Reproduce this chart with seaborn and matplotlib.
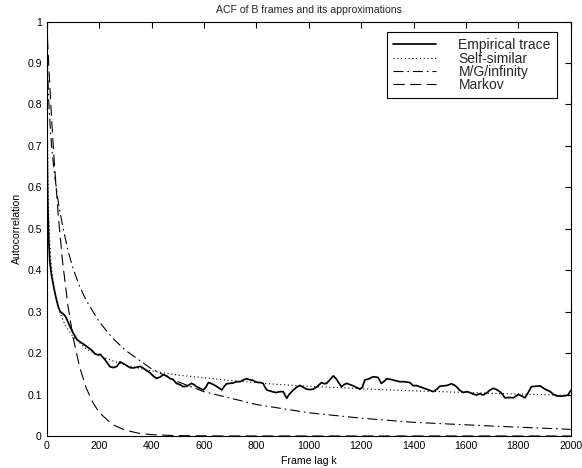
import numpy as np
import pandas as pd
import matplotlib
matplotlib.use("Agg")
import matplotlib.pyplot as plt
from matplotlib.ticker import FuncFormatter, MultipleLocator
import seaborn as sns

# ---- data ----
emp_lag = [0, 1, 2, 4, 8, 12, 18, 25, 35, 45, 52, 62, 70, 78, 89, 100, 114, 125, 140, 155,
           170, 185, 195, 205, 220, 242, 255, 268, 280, 292, 305, 318, 330, 345, 358, 370, 381,
           395, 410, 419, 432, 445, 458, 470, 483, 495, 508, 521, 533, 540, 553, 562, 572, 585,
           598, 608, 617, 630, 642, 655, 668, 678, 687, 700, 712, 725, 738, 750, 762, 775, 788,
           800, 815, 826, 833, 840, 855, 866, 877, 890, 903, 910, 916, 925, 941, 955, 966, 980,
           992, 1005, 1017, 1030, 1049, 1060, 1068, 1080, 1094, 1105, 1115, 1125, 1135, 1145,
           1158, 1170, 1183, 1196, 1205, 1214, 1230, 1246, 1258, 1265, 1277, 1288, 1297, 1310,
           1322, 1335, 1348, 1365, 1386, 1399, 1410, 1424, 1437, 1450, 1462, 1475, 1490, 1500,
           1513, 1528, 1545, 1555, 1564, 1577, 1590, 1603, 1615, 1628, 1641, 1653, 1666, 1680,
           1690, 1704, 1717, 1730, 1740, 1749, 1765, 1781, 1790, 1800, 1812, 1825, 1837, 1850,
           1865, 1883, 1895, 1908, 1920, 1935, 1946, 1960, 1978, 1990, 1997, 2000]
emp_val = [1.0, 0.80, 0.66, 0.56, 0.47, 0.42, 0.39, 0.365, 0.335, 0.31, 0.30, 0.295, 0.29,
           0.28, 0.264, 0.25, 0.234, 0.228, 0.222, 0.215, 0.208, 0.198, 0.196, 0.197, 0.186,
           0.167, 0.165, 0.168, 0.179, 0.175, 0.17, 0.165, 0.164, 0.166, 0.168, 0.163, 0.158,
           0.152, 0.143, 0.139, 0.142, 0.148, 0.145, 0.139, 0.136, 0.127, 0.124, 0.119, 0.12,
           0.122, 0.127, 0.124, 0.119, 0.115, 0.111, 0.118, 0.129, 0.126, 0.122, 0.117, 0.111,
           0.12, 0.126, 0.127, 0.128, 0.131, 0.131, 0.135, 0.138, 0.136, 0.134, 0.13, 0.129,
           0.127, 0.118, 0.111, 0.108, 0.106, 0.105, 0.107, 0.107, 0.098, 0.091, 0.1, 0.111,
           0.118, 0.122, 0.117, 0.113, 0.112, 0.113, 0.118, 0.129, 0.126, 0.127, 0.135, 0.145,
           0.138, 0.128, 0.119, 0.124, 0.127, 0.124, 0.121, 0.117, 0.113, 0.118, 0.135, 0.138,
           0.143, 0.142, 0.141, 0.127, 0.132, 0.138, 0.137, 0.135, 0.133, 0.131, 0.131, 0.129,
           0.121, 0.122, 0.119, 0.116, 0.113, 0.11, 0.107, 0.113, 0.12, 0.121, 0.122, 0.126,
           0.123, 0.119, 0.11, 0.105, 0.107, 0.105, 0.101, 0.099, 0.102, 0.099, 0.104, 0.11,
           0.115, 0.112, 0.107, 0.1, 0.092, 0.093, 0.092, 0.096, 0.1, 0.097, 0.092, 0.104,
           0.119, 0.12, 0.121, 0.116, 0.111, 0.108, 0.1, 0.097, 0.096, 0.097, 0.099, 0.107, 0.11]

ss_lag = [0, 1, 2, 3, 5, 7, 10, 15, 20, 30, 40, 50, 70, 100, 150, 200, 300, 400, 500, 700,
          890, 1000, 1272, 1400, 1700, 2000]
ss_val = [1.0, 0.97, 0.81, 0.71, 0.607, 0.547, 0.49, 0.432, 0.395, 0.348, 0.318, 0.298,
          0.268, 0.24, 0.211, 0.193, 0.171, 0.157, 0.147, 0.134, 0.124, 0.12, 0.112, 0.109,
          0.103, 0.098]

mg_lag = [0, 1, 2, 4, 7, 10, 15, 20, 30, 45, 60, 80, 100, 125, 150, 200, 250, 300, 400, 500,
          600, 800, 1000, 1200, 1400, 1700, 2000]
mg_val = [1.0, 0.95, 0.92, 0.87, 0.82, 0.78, 0.73, 0.69, 0.63, 0.56, 0.51, 0.45, 0.405,
          0.362, 0.328, 0.276, 0.237, 0.207, 0.162, 0.131, 0.107, 0.076, 0.056, 0.043, 0.033,
          0.024, 0.016]

mk_lag = [0, 5, 10, 20, 30, 45, 60, 80, 100, 125, 150, 175, 200, 250, 300, 350, 400, 500,
          700, 2000]
mk_val = [1.0, 0.931, 0.867, 0.751, 0.651, 0.526, 0.424, 0.319, 0.240, 0.168, 0.117, 0.082,
          0.057, 0.028, 0.014, 0.0068, 0.0033, 0.0008, 0.0, 0.0]

series_names = ["Empirical trace", "Self-similar", "M/G/infinity", "Markov"]
x_ticks = [0, 200, 400, 600, 800, 1000, 1200, 1400, 1600, 1800, 2000]
y_ticks = [0, 0.1, 0.2, 0.3, 0.4, 0.5, 0.6, 0.7, 0.8, 0.9, 1]

# ---- style ----
sns.set_style("white")
plt.rcParams["font.family"] = ["Liberation Sans", "DejaVu Sans"]

W, H = 582, 468
fig = plt.figure(figsize=(W / 100, H / 100), dpi=100)
ax_l, ax_r, ax_t, ax_b = 46.7, 570.7, 21.5, 436.0
ax = fig.add_axes([ax_l / W, 1 - ax_b / H, (ax_r - ax_l) / W, (ax_b - ax_t) / H])

frames = [
    pd.DataFrame({"lag": emp_lag, "acf": emp_val}),
    pd.DataFrame({"lag": ss_lag, "acf": ss_val}),
    pd.DataFrame({"lag": mg_lag, "acf": mg_val}),
    pd.DataFrame({"lag": mk_lag, "acf": mk_val}),
]
styles = ["-", (0, (1, 2.4)), (0, (9, 3.5, 1.5, 3.5)), (0, (10, 5))]
widths = [1.25, 0.8, 0.8, 0.8]
for df, name, ls, lw in zip(frames, series_names, styles, widths):
    sns.lineplot(data=df, x="lag", y="acf", ax=ax, color="black", linestyle=ls,
                 linewidth=lw, label=name, estimator=None)

ax.set_xlim(0, 2000)
ax.set_ylim(0, 1)
ax.set_xticks(x_ticks)
ax.set_yticks(y_ticks)
fmt = FuncFormatter(lambda v, p: "%g" % v)
ax.xaxis.set_major_formatter(fmt)
ax.yaxis.set_major_formatter(fmt)
ax.tick_params(direction="in", length=4, width=0.8, colors="black", labelsize=7.6,
               top=True, right=True, pad=3.6)
for s in ax.spines.values():
    s.set_visible(True)
    s.set_color("black")
    s.set_linewidth(0.8)

ax.set_xlabel("Frame lag k", fontsize=7.6, color="black")
ax.set_ylabel("Autocorrelation", fontsize=7.6, color="black")
ax.xaxis.set_label_coords(0.5, (ax_b - 455.5) / (ax_b - ax_t))
ax.yaxis.set_label_coords((22.0 - ax_l) / (ax_r - ax_l), 0.5)
ax.set_title("ACF of B frames and its approximations", fontsize=7.6, pad=5.9)

leg = ax.legend(loc="upper right",
                bbox_to_anchor=((557 - ax_l) / (ax_r - ax_l), (ax_b - 32) / (ax_b - ax_t)),
                borderaxespad=0, fontsize=10, handlelength=3.1, handletextpad=1.6,
                borderpad=0.45, labelspacing=-0.05, fancybox=False, framealpha=1,
                edgecolor="black")
leg.get_frame().set_linewidth(0.8)

fig.savefig("out.png", dpi=100)
